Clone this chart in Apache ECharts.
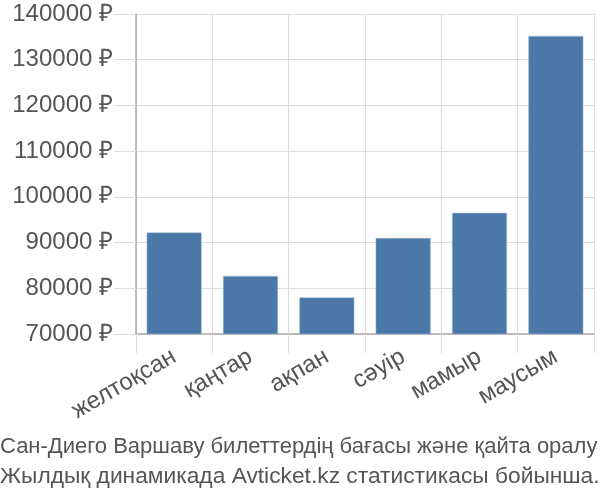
<!DOCTYPE html>
<html><head><meta charset="utf-8">
<script src="https://cdn.jsdelivr.net/npm/echarts@6/dist/echarts.min.js"></script>
<style>html,body{margin:0;padding:0;background:#fff}#c{width:600px;height:500px}</style>
</head><body><div id="c"></div>
<script>
const categories = ["желтоқсан", "қаңтар", "ақпан", "сәуір", "мамыр", "маусым"];
const prices = [92200, 82700, 78000, 91000, 96500, 135200];
const yTicks = [70000, 80000, 90000, 100000, 110000, 120000, 130000, 140000];
const titleLines = ["Сан-Диего Варшаву билеттердің бағасы және қайта оралу", "Жылдық динамикада Avticket.kz статистикасы бойынша."];

const chart = echarts.init(document.getElementById('c'), null, {renderer: 'canvas'});
chart.setOption({
  animation: false,
  textStyle: {fontFamily: 'Liberation Sans'},
  grid: {left: 136, right: 6, top: 14, bottom: 166},
  xAxis: {
    type: 'category', data: categories,
    axisLine: {lineStyle: {color: '#aaa', width: 1.5}},
    axisTick: {show: true, length: 19, lineStyle: {color: '#ddd'}},
    splitLine: {show: true, lineStyle: {color: '#ddd'}},
    axisLabel: {rotate: 30, margin: 21, color: '#555', fontSize: 24, fontFamily: 'Liberation Sans'}
  },
  yAxis: {
    type: 'value', min: yTicks[0], max: yTicks[yTicks.length - 1], interval: 10000,
    axisLine: {show: true, lineStyle: {color: '#aaa', width: 1.5}},
    axisTick: {show: true, length: 22, lineStyle: {color: '#ddd'}},
    splitLine: {lineStyle: {color: '#ddd'}},
    axisLabel: {formatter: v => v + ' ₽', margin: 23, color: '#555', fontSize: 24, fontFamily: 'Liberation Sans'}
  },
  series: [{
    type: 'bar', data: prices, barCategoryGap: '28%',
    itemStyle: {color: '#4c78a8', borderColor: '#a8bfd8', borderWidth: 0.5}
  }],
  graphic: [
    {type: 'text', x: 0, y: 436,
     style: {text: titleLines[0], fontSize: 22, fill: '#555', fontFamily: 'Liberation Sans'}},
    {type: 'text', x: 0, y: 466, scaleX: 1.035,
     style: {text: titleLines[1], fontSize: 22, fill: '#555', fontFamily: 'Liberation Sans'}}
  ]
});
</script></body></html>
